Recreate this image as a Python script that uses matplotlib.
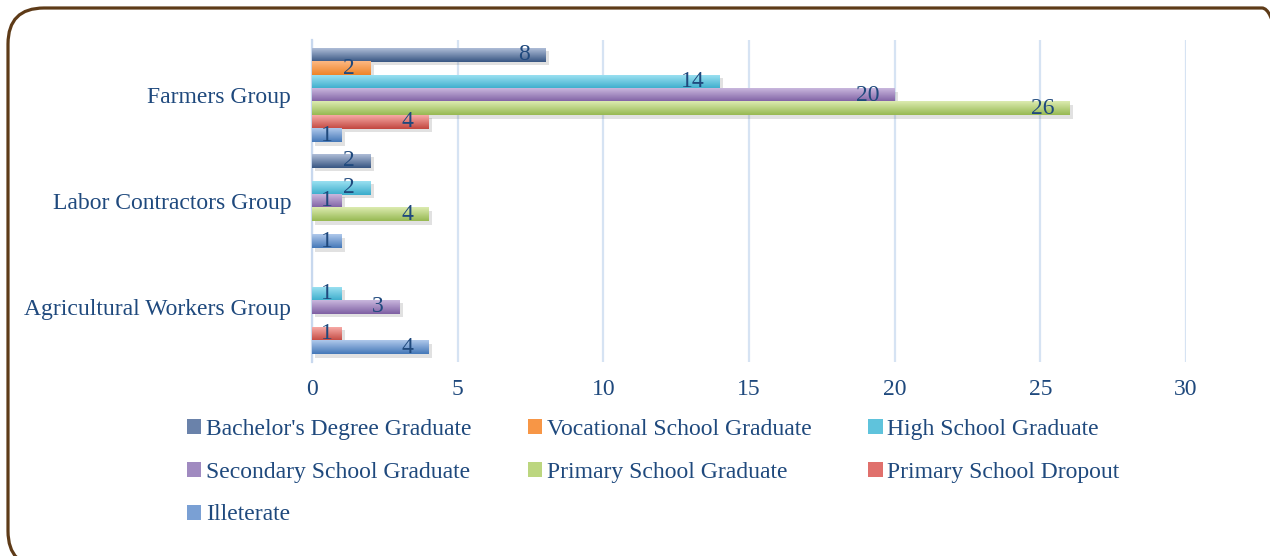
import numpy as np
import matplotlib
matplotlib.use("Agg")
import matplotlib.pyplot as plt
from matplotlib import patheffects as pe
from matplotlib.patches import FancyBboxPatch, Patch
from matplotlib.colors import LinearSegmentedColormap

# ---------------- data ----------------
groups = ["Farmers Group", "Labor Contractors Group", "Agricultural Workers Group"]
series = ["Bachelor's Degree Graduate", "Vocational School Graduate", "High School Graduate",
          "Secondary School Graduate", "Primary School Graduate", "Primary School Dropout",
          "Illeterate"]
bachelor = [8, 2, None]
vocational = [2, None, None]
high_school = [14, 2, 1]
secondary = [20, 1, 3]
primary = [26, 4, None]
dropout = [4, None, 1]
illiterate = [1, 1, 4]
values = [bachelor, vocational, high_school, secondary, primary, dropout, illiterate]
xticks = [0, 5, 10, 15, 20, 25, 30]

# gradient colours (top light, bottom dark)
light = ["#aebdd7", "#fcb883", "#9ae0f1", "#c9b7dd", "#dcebb0", "#f7aaa6", "#afc8eb"]
dark = ["#385683", "#ee8428", "#3aaccb", "#7e5fa3", "#97b952", "#c2473f", "#4478b8"]
mid = ["#6a82aa", "#f79646", "#5fc3dc", "#a08ac0", "#bcd67f", "#e0706c", "#7aa0d4"]

TXT = "#1f497d"
FS = 17
FONT = ["Liberation Serif", "DejaVu Serif"]
plt.rcParams["font.family"] = FONT

fig = plt.figure(figsize=(12.7, 5.56), dpi=100)
ax = fig.add_axes([312 / 1270, 1 - 362 / 556, 874 / 1270, 322 / 556])

step = 0.1264
bh = 0.132
centers = {g: len(groups) - 1 - i for i, g in enumerate(groups)}

grad = np.linspace(0, 1, 64).reshape(-1, 1)
for si, (name, vals) in enumerate(zip(series, values)):
    ys, ws = [], []
    for gi, g in enumerate(groups):
        v = vals[gi]
        if v is None:
            continue
        ys.append(centers[g] + (3 - si) * step)
        ws.append(v)
    bars = ax.barh(ys, ws, height=bh, color=mid[si], zorder=3 + si * 0.01,
                   path_effects=[pe.SimplePatchShadow(offset=(2.5, -2.5), shadow_rgbFace="#777777", alpha=0.22),
                                 pe.Normal()])
    cmap = LinearSegmentedColormap.from_list("g%d" % si, [light[si], dark[si]])
    for b, v in zip(bars, ws):
        x0, y0, w, h = b.get_x(), b.get_y(), b.get_width(), b.get_height()
        im = ax.imshow(grad, extent=[x0, x0 + w, y0, y0 + h], origin="upper", aspect="auto",
                       cmap=cmap, zorder=3.005 + si * 0.01, interpolation="bilinear")
        im.set_clip_path(b)
        yc = y0 + h / 2
        if v <= 1:
            ax.text(x0 + w / 2, yc, str(v), ha="center", va="center", fontsize=FS, color=TXT, zorder=10)
        else:
            ax.annotate(str(v), (x0 + w, yc), xytext=(-11, 0), textcoords="offset points",
                        ha="right", va="center", fontsize=FS, color=TXT, zorder=10)

ax.set_xlim(0, 30)
ax.set_ylim(-0.52, 2.52)
ax.set_xticks(xticks)
ax.set_xticklabels([str(t) for t in xticks])
ax.set_yticks([centers[g] for g in groups])
ax.set_yticklabels(groups)
ax.tick_params(axis="both", length=0, labelsize=FS, labelcolor=TXT)
ax.tick_params(axis="y", pad=15)
ax.tick_params(axis="x", pad=12)
ax.xaxis.grid(True, color="#d6e3f3", linewidth=1.6, zorder=0)
ax.set_axisbelow(True)
for s in ["top", "right", "bottom"]:
    ax.spines[s].set_visible(False)
ax.spines["left"].set_color("#c8d8ee")
ax.spines["left"].set_linewidth(1.6)

# legend
handles = [Patch(facecolor=mid[i], edgecolor="none") for i in range(len(series))]
order = [0, 3, 6, 1, 4, 2, 5]
leg = fig.legend([handles[i] for i in order], [series[i] for i in order],
                 ncol=3, loc="upper left", bbox_to_anchor=(187 / 1270, 1 - 419 / 556),
                 frameon=False, fontsize=FS, labelcolor=TXT, handlelength=0.6, handleheight=0.6,
                 handletextpad=0.2, columnspacing=2.4, labelspacing=0.92, borderpad=0, borderaxespad=0)

# rounded border
border = FancyBboxPatch((0.08, -0.11), 12.9, 5.59, boxstyle="round,pad=0,rounding_size=0.36",
                        transform=fig.dpi_scale_trans, facecolor="none", edgecolor="#5e3b18",
                        linewidth=2.3, zorder=20)
fig.patches.append(border)

fig.savefig("out.png", dpi=100)
